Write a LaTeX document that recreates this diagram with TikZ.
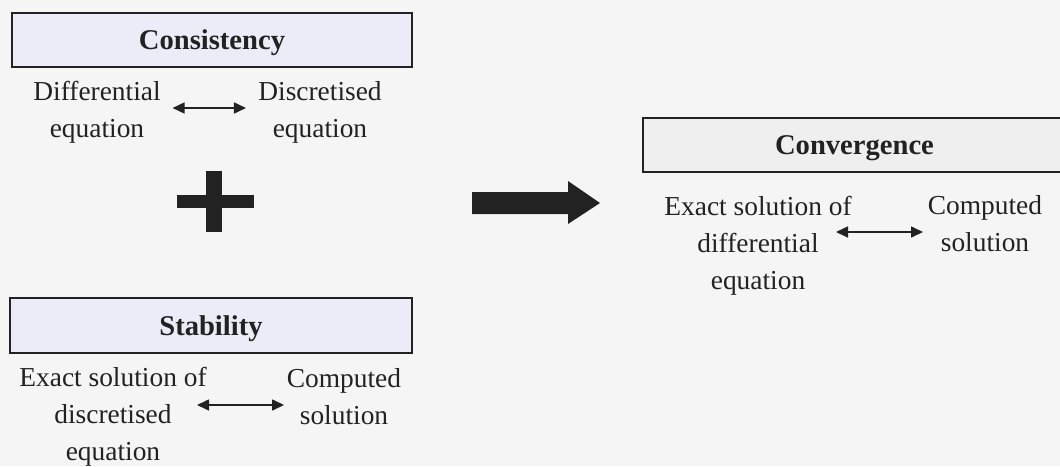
\documentclass[tikz,border=0pt]{standalone}
\usepackage{fontspec}
\setmainfont{Liberation Serif}
\usetikzlibrary{arrows.meta,positioning,calc}

\definecolor{pagebg}{RGB}{245,245,245}
\definecolor{lavender}{RGB}{236,236,248}
\definecolor{greybox}{RGB}{239,239,239}
\definecolor{ink}{RGB}{34,34,34}

\begin{document}
\begin{tikzpicture}[
  x=0.5pt, y=-0.5pt,
  titlebox/.style={draw=ink, line width=1.2pt, inner sep=0pt, text depth=0pt, font=\fontsize{14.3}{17}\selectfont\bfseries, text=ink},
  term/.style={align=center, inner sep=0pt, font=\fontsize{13.7}{18.5}\selectfont, text=ink},
  dblarr/.style={{Triangle[length=6pt,width=5.5pt]}-{Triangle[length=6pt,width=5.5pt]}, line width=0.8pt, draw=ink}
]
\fill[pagebg] (0,0) rectangle (1060,466);
\useasboundingbox (0,0) rectangle (1060,466);

% consistency
\node[titlebox, fill=lavender, minimum width=200pt, minimum height=27pt] (cons) at (212,40) {Consistency};
\node[term] (diffeq) at (97,112) {Differential\\equation};
\node[term] (disceq) at (320,112) {Discretised\\equation};
\draw[dblarr, shorten <=5.75pt, shorten >=6pt] ([yshift=2pt]diffeq.east) -- ([yshift=2pt]diffeq.east -| disceq.west);

% plus
\coordinate (plus) at (214,201);
\fill[ink] ($(plus)+(-37,-6.5)$) rectangle ($(plus)+(40,6.5)$);
\fill[ink] ($(plus)+(-8,-30)$) rectangle ($(plus)+(8,31)$);

% stability
\node[titlebox, fill=lavender, minimum width=201pt, minimum height=27.5pt] (stab) at (211,325.5) {Stability};
\node[term] (discsol) at (113,417) {Exact solution of\\discretised\\equation};
\node[term] (compsolA) at (344,397) {Computed\\solution};
\draw[dblarr, shorten <=-5pt, shorten >=1.25pt] ([yshift=6pt]discsol.east) -- ([yshift=6pt]discsol.east -| compsolA.west);

% implies
\fill[ink] (472,192) -- (568,192) -- (568,181) -- (600,203) -- (568,224) -- (568,214) -- (472,214) -- cycle;

% convergence
\node[titlebox, fill=greybox, minimum width=211.5pt, minimum height=27pt] (conv) at (854.5,145) {Convergence};
\node[term] (diffsol) at (758,246) {Exact solution of\\differential\\equation};
\node[term] (compsolB) at (985,224) {Computed\\solution};
\draw[dblarr, shorten <=-8pt, shorten >=2.25pt] ([yshift=7pt]diffsol.east) -- ([yshift=7pt]diffsol.east -| compsolB.west);

\end{tikzpicture}
\end{document}
